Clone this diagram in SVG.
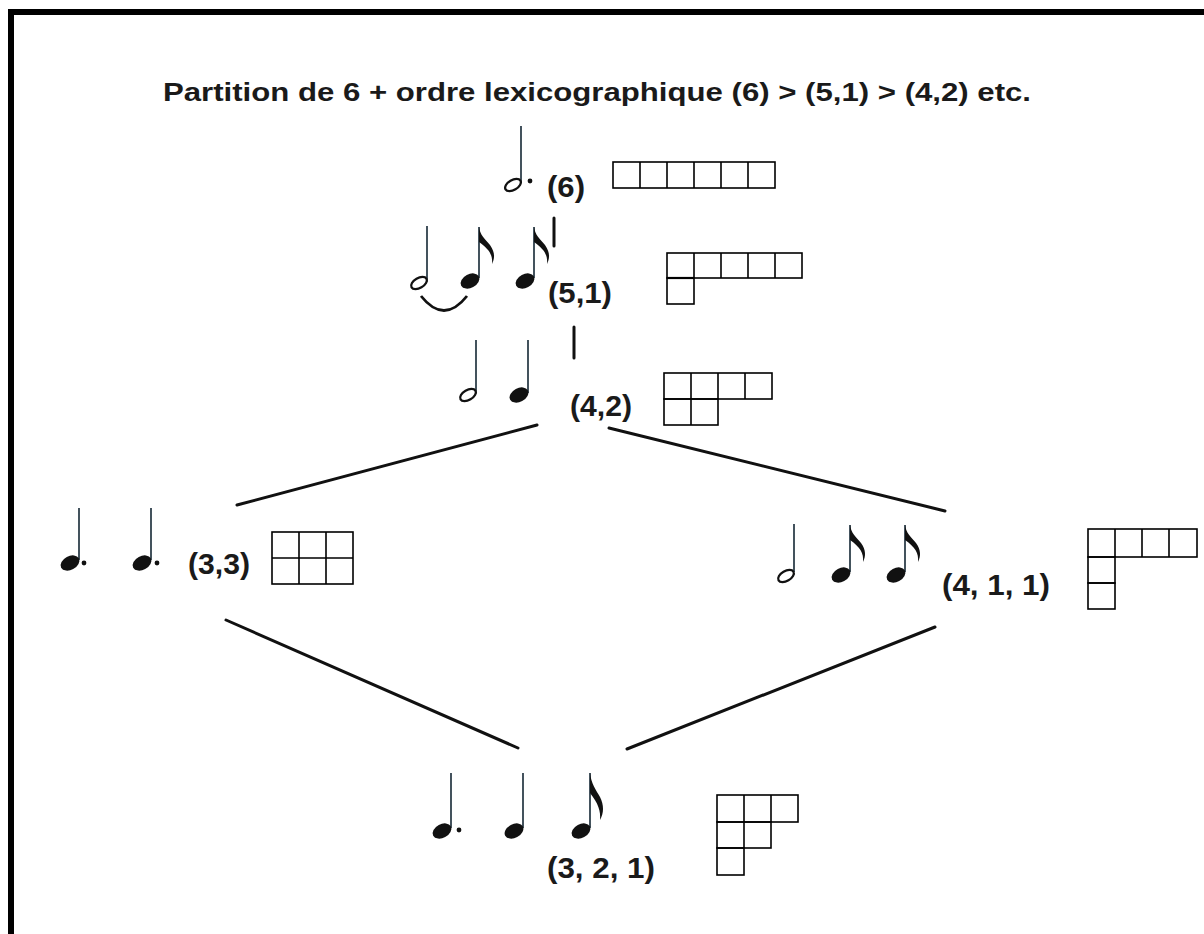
<svg xmlns="http://www.w3.org/2000/svg" width="1204" height="934" viewBox="0 0 1204 934">
<style>
.t{font-family:"Liberation Sans",Arial,sans-serif;font-weight:bold;fill:#1a1a1a}
.lbl{font-size:29px}
.stem{stroke:#3a4a55;stroke-width:1.9}
.cell{fill:none;stroke:#000;stroke-width:1.6}
.con{stroke:#111;stroke-width:3;stroke-linecap:round;fill:none}
</style>
<defs>
<ellipse id="fh" rx="10" ry="6.8" transform="rotate(-28)" fill="#111"/>
<ellipse id="oh" rx="8.6" ry="5" transform="rotate(-30)" fill="#fff" stroke="#111" stroke-width="2.3"/>
<path id="fl" d="M0,0 C1,8 6,12 11,18 C16,25 16,31 13,37 C14,28 10,22 0,15 Z" fill="#111"/>
<circle id="dot" r="2.4" fill="#111"/>
</defs>
<rect width="1204" height="934" fill="#fff"/>
<path d="M11,934 V12 H1204" fill="none" stroke="#000" stroke-width="6"/>
<text class="t" x="163" y="101" font-size="25.5" textLength="868" lengthAdjust="spacingAndGlyphs">Partition de 6 + ordre lexicographique (6) &gt; (5,1) &gt; (4,2) etc.</text>

<g id="connectors">
<line class="con" x1="554" y1="218" x2="554" y2="246"/>
<line class="con" x1="574" y1="327" x2="574" y2="358"/>
<line class="con" x1="537" y1="425" x2="237" y2="505"/>
<line class="con" x1="609" y1="428" x2="945" y2="511"/>
<line class="con" x1="226" y1="620" x2="518" y2="748"/>
<line class="con" x1="935" y1="627" x2="627" y2="749"/>
</g>

<g id="n6">
<line class="stem" x1="521" y1="126" x2="521" y2="183"/>
<use href="#oh" x="513" y="185"/>
<use href="#dot" x="530" y="181"/>
<text class="t lbl" x="547" y="197" textLength="38" lengthAdjust="spacingAndGlyphs">(6)</text>
<g class="cell"><rect x="613" y="162" width="162" height="26"/><path d="M640,162V188M667,162V188M694,162V188M721,162V188M748,162V188"/></g>
</g>

<g id="n51">
<line class="stem" x1="427" y1="226" x2="427" y2="280"/>
<use href="#oh" x="419" y="283"/>
<line class="stem" x1="479" y1="227" x2="479" y2="278"/>
<use href="#fl" x="479" y="227"/>
<use href="#fh" x="470" y="281"/>
<line class="stem" x1="534" y1="227" x2="534" y2="278"/>
<use href="#fl" x="534" y="227"/>
<use href="#fh" x="525" y="281"/>
<path d="M421,296 Q444,325 467,296" fill="none" stroke="#111" stroke-width="2.8"/>
<text class="t lbl" x="548" y="303" textLength="64" lengthAdjust="spacingAndGlyphs">(5,1)</text>
<g class="cell"><rect x="667" y="253" width="135" height="25"/><path d="M694,253V278M721,253V278M748,253V278M775,253V278"/><rect x="667" y="278" width="27" height="26"/></g>
<line x1="667" y1="278" x2="694" y2="278" stroke="#000" stroke-width="2.2"/>
</g>

<g id="n42">
<line class="stem" x1="476" y1="340" x2="476" y2="393"/>
<use href="#oh" x="468" y="395"/>
<line class="stem" x1="528" y1="340" x2="528" y2="393"/>
<use href="#fh" x="519" y="395"/>
<text class="t lbl" x="570" y="416" textLength="62" lengthAdjust="spacingAndGlyphs">(4,2)</text>
<g class="cell"><rect x="664" y="373" width="108" height="26"/><path d="M691,373V399M718,373V399M745,373V399"/><rect x="664" y="399" width="54" height="26"/><path d="M691,399V425"/></g>
</g>

<g id="n33">
<line class="stem" x1="79" y1="508" x2="79" y2="560"/>
<use href="#fh" x="70" y="563"/>
<use href="#dot" x="84" y="563"/>
<line class="stem" x1="151" y1="508" x2="151" y2="560"/>
<use href="#fh" x="142" y="563"/>
<use href="#dot" x="157" y="563"/>
<text class="t lbl" x="188" y="574" textLength="62" lengthAdjust="spacingAndGlyphs">(3,3)</text>
<g class="cell"><rect x="272" y="532" width="81" height="52"/><path d="M299,532V584M326,532V584M272,558H353"/></g>
</g>

<g id="n411">
<line class="stem" x1="794" y1="524" x2="794" y2="572"/>
<use href="#oh" x="786" y="576"/>
<line class="stem" x1="850" y1="525" x2="850" y2="572"/>
<use href="#fl" x="850" y="525"/>
<use href="#fh" x="841" y="575"/>
<line class="stem" x1="905" y1="525" x2="905" y2="572"/>
<use href="#fl" x="905" y="525"/>
<use href="#fh" x="896" y="575"/>
<text class="t lbl" x="942" y="595" textLength="108" lengthAdjust="spacingAndGlyphs">(4, 1, 1)</text>
<g class="cell"><rect x="1088" y="529" width="109" height="28"/><path d="M1115,529V557M1142,529V557M1169,529V557"/><rect x="1088" y="557" width="27" height="26"/><rect x="1088" y="583" width="27" height="26"/></g>
</g>

<g id="n321">
<line class="stem" x1="451" y1="773" x2="451" y2="828"/>
<use href="#fh" x="442" y="831"/>
<use href="#dot" x="459" y="830"/>
<line class="stem" x1="523" y1="773" x2="523" y2="828"/>
<use href="#fh" x="514" y="831"/>
<line class="stem" x1="590" y1="773" x2="590" y2="828"/>
<path d="M590,773 C591,783 596,790 600,797 C604,805 604,813 600,820 C601,811 598,803 590,793 Z" fill="#111"/>
<use href="#fh" x="581" y="831"/>
<text class="t lbl" x="547" y="878" textLength="108" lengthAdjust="spacingAndGlyphs">(3, 2, 1)</text>
<g class="cell"><rect x="717" y="795" width="81" height="27"/><path d="M744,795V822M771,795V822"/><rect x="717" y="822" width="54" height="26"/><path d="M744,822V848"/><rect x="717" y="848" width="27" height="27"/></g>
</g>
</svg>
